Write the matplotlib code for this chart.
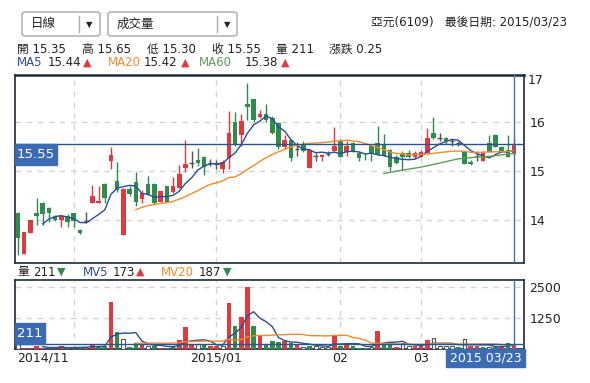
import numpy as np
import pandas as pd
import matplotlib
matplotlib.use("Agg")
import matplotlib.pyplot as plt
from matplotlib.patches import FancyBboxPatch, Rectangle

plt.rcParams['font.family'] = ['DejaVu Sans', 'Noto Sans CJK TC']

# daily candles, oldest first, last = 2015/03/23
opens = [14.14, 13.30, 13.74, 14.14, 14.34, 14.24, 14.05, 14.00, 14.07, 14.14,
         13.80, 13.97, 14.34, 14.34, 14.73, 15.21, 14.80, 13.69, 14.63, 14.78,
         14.43, 14.73, 14.73, 14.37, 14.69, 14.57, 14.66, 15.07, 15.17, 15.22,
         15.29, 15.16, 15.15, 15.03, 15.27, 15.99, 15.73, 16.36, 16.46, 16.10,
         16.16, 16.09, 15.97, 15.48, 15.63, 15.44, 15.55, 15.07, 15.31, 15.28,
         15.34, 15.41, 15.62, 15.39, 15.58, 15.37, 15.31, 15.50, 15.58, 15.55,
         15.43, 15.29, 15.37, 15.37, 15.28, 15.29, 15.36, 15.77, 15.67, 15.67,
         15.61, 15.58, 15.39, 15.19, 15.30, 15.21, 15.57, 15.73, 15.48, 15.43,
         15.35]
highs = [14.16, 13.75, 14.00, 14.45, 14.36, 14.26, 14.10, 14.10, 14.12, 14.14,
         13.82, 14.17, 14.72, 14.70, 14.75, 15.48, 15.18, 14.65, 14.70, 14.97,
         14.62, 14.90, 14.75, 14.59, 14.70, 14.87, 15.13, 15.63, 15.40, 15.46,
         15.31, 15.25, 15.22, 15.22, 16.22, 16.20, 16.17, 16.80, 16.48, 16.25,
         16.36, 16.12, 16.00, 15.73, 15.65, 15.60, 15.62, 15.43, 15.36, 15.35,
         15.40, 15.90, 15.65, 15.62, 15.60, 15.40, 15.37, 15.52, 15.92, 15.75,
         15.45, 15.32, 15.40, 15.42, 15.40, 15.42, 15.87, 16.10, 15.77, 15.70,
         15.66, 15.62, 15.40, 15.23, 15.40, 15.40, 15.74, 15.75, 15.52, 15.74,
         15.65]
lows = [13.29, 13.30, 13.74, 13.90, 13.90, 13.96, 13.98, 13.86, 13.85, 13.85,
        13.72, 13.93, 14.34, 14.34, 14.35, 15.03, 14.58, 13.69, 14.48, 14.29,
        14.35, 14.50, 14.32, 14.37, 14.37, 14.55, 14.66, 14.97, 15.07, 15.10,
        14.91, 15.10, 15.05, 14.95, 15.03, 15.50, 15.52, 16.05, 16.00, 16.08,
        16.00, 15.75, 15.45, 15.45, 15.20, 15.30, 15.38, 15.07, 15.20, 15.20,
        15.30, 15.41, 15.28, 15.30, 15.39, 15.20, 15.23, 15.20, 15.33, 15.31,
        15.00, 15.15, 15.00, 15.27, 15.25, 15.28, 15.36, 15.65, 15.62, 15.55,
        15.52, 15.52, 15.14, 15.12, 15.20, 15.21, 15.39, 15.48, 15.41, 15.29,
        15.30]
closes = [13.63, 13.75, 14.00, 14.09, 14.12, 14.14, 14.00, 14.08, 13.95, 13.97,
          13.74, 13.97, 14.49, 14.39, 14.44, 15.33, 14.61, 14.63, 14.52, 14.37,
          14.56, 14.52, 14.34, 14.59, 14.37, 14.69, 14.93, 15.14, 15.17, 15.17,
          15.09, 15.16, 15.15, 15.19, 15.78, 15.54, 16.03, 16.31, 16.05, 16.16,
          16.05, 15.77, 15.48, 15.63, 15.27, 15.44, 15.41, 15.43, 15.31, 15.33,
          15.34, 15.51, 15.28, 15.50, 15.39, 15.26, 15.30, 15.37, 15.33, 15.31,
          15.09, 15.17, 15.29, 15.29, 15.36, 15.39, 15.67, 15.67, 15.67, 15.61,
          15.61, 15.58, 15.14, 15.14, 15.30, 15.37, 15.39, 15.48, 15.41, 15.29,
          15.55]
volumes = [190, 55, 50, 120, 40, 40, 40, 120, 40, 60,
           60, 80, 190, 120, 120, 1900, 685, 390, 80, 250,
           190, 120, 120, 40, 60, 120, 360, 890, 190, 220,
           190, 120, 120, 120, 1866, 930, 1290, 2500, 930, 560,
           220, 320, 280, 320, 250, 190, 100, 120, 120, 100,
           100, 560, 120, 190, 120, 60, 60, 80, 725, 250,
           250, 80, 250, 120, 120, 120, 360, 440, 120, 120,
           120, 80, 415, 120, 120, 80, 80, 80, 120, 250,
           211]
# u = up (red), d = down (green), f = flat (hollow)
vol_dir = list("fuuuuffudf" "duuddudfdd" "ufdudduuuf" "duufudurdu" "dddudufdff"
               "fududddfud" "duffuuufff" "fdfuudfdud" "u")
vol_dir = ['u' if v == 'r' else v for v in vol_dir]

grid_pos = [9, 32, 52, 65]
date_labels = ['2014/11', '2015/01', '02', '03']
price_ticks = [14, 15, 16]
vol_ticks = [1250, 2500]

RED = '#e03a3e'
GREEN = '#2f8c4c'
DOJI = '#555555'
BLUE = '#2b4c9b'
ORANGE = '#f28a2e'
MA60C = '#5c9f5c'
FRAME = '#1c2a3a'
BOX = '#3b6cb3'
GRID = '#d4d4d4'
TXT = '#222222'

W, H = 590, 383


def fx(x):
    return x / W


def fy(y):
    return 1 - y / H


fig = plt.figure(figsize=(5.9, 3.83), dpi=100)
ax = fig.add_axes([fx(15), fy(263), (524 - 15) / W, (263 - 75) / H])
axv = fig.add_axes([fx(15), fy(349), (524 - 15) / W, (349 - 280) / H])

idx = np.arange(len(closes))
xlim = (-0.48, 81.6)

# candles
for i in idx:
    o, h, l, c = opens[i], highs[i], lows[i], closes[i]
    col = RED if c > o else (GREEN if c < o else DOJI)
    ax.vlines(i, l, h, color=col, lw=1, zorder=3)
    if c == o:
        ax.hlines(c, i - 0.38, i + 0.38, color=col, lw=1, zorder=3)
    else:
        ax.bar(i, abs(c - o), 0.74, bottom=min(o, c), color=col, zorder=3)

s = pd.Series(closes)
ax.plot(idx, s.rolling(5).mean(), color=BLUE, lw=1, zorder=4)
ax.plot(idx, s.rolling(20).mean(), color=ORANGE, lw=1, zorder=4)
ax.plot(idx, s.rolling(60).mean(), color=MA60C, lw=1, zorder=4)

for p in price_ticks:
    ax.axhline(p, color=GRID, lw=1, ls=(0, (4, 4)), zorder=1)
for g in grid_pos:
    ax.axvline(g, color=GRID, lw=1, ls=(0, (4, 4)), zorder=1)
ax.axhline(closes[-1], color='#2d5584', lw=1, zorder=5)
ax.axvline(idx[-1], color='#4a70b0', lw=1, zorder=5)
ax.add_patch(Rectangle((xlim[0], 15.12), 6.77, closes[-1] - 15.12, color=BOX, zorder=6))
ax.text(2.9, 15.335, '%.2f' % closes[-1], color='white', fontsize=9.5,
        ha='center', va='center', zorder=7)

ax.set_xlim(xlim)
ax.set_ylim(13.12, 16.96)
ax.yaxis.tick_right()
ax.set_yticks(price_ticks)
ax.set_yticklabels([str(p) for p in price_ticks])
ax.tick_params(axis='y', length=0, pad=4, labelsize=9, labelcolor=TXT)
ax.set_xticks([])
for sp in ax.spines.values():
    sp.set_color(FRAME)
    sp.set_linewidth(1.2)
ax.spines['top'].set_linewidth(1.8)
fig.text(fx(528), fy(80), '17', fontsize=9, color=TXT, va='center')

# volume
vs = pd.Series(volumes)
for i in idx:
    d = vol_dir[i]
    if d == 'f':
        axv.bar(i, volumes[i], 0.62, color='white', edgecolor='#555555', lw=0.8, zorder=3)
    else:
        axv.bar(i, volumes[i], 0.74, color=RED if d == 'u' else GREEN, zorder=3)
axv.plot(idx, vs.rolling(5).mean(), color=BLUE, lw=1, zorder=4)
axv.plot(idx, vs.rolling(20).mean(), color=ORANGE, lw=1, zorder=4)
for v in vol_ticks:
    axv.axhline(v, color=GRID, lw=1, ls=(0, (4, 4)), zorder=1)
for g in grid_pos:
    axv.axvline(g, color=GRID, lw=1, ls=(0, (4, 4)), zorder=1)
axv.axhline(volumes[-1], color='#2d5584', lw=1, zorder=5)
axv.axvline(idx[-1], color='#4a70b0', lw=1, zorder=5)
axv.add_patch(Rectangle((xlim[0], volumes[-1]), 4.85, 840, color=BOX, zorder=6))
axv.text(1.95, volumes[-1] + 420, str(volumes[-1]), color='white', fontsize=9.5,
         ha='center', va='center', zorder=7)
axv.set_xlim(xlim)
axv.set_ylim(0, 2780)
axv.yaxis.tick_right()
axv.set_yticks(vol_ticks)
axv.set_yticklabels([str(v) for v in vol_ticks])
axv.tick_params(axis='y', length=0, pad=4, labelsize=9, labelcolor=TXT)
axv.set_xticks([])
for sp in axv.spines.values():
    sp.set_color(FRAME)
    sp.set_linewidth(1.2)

# date labels under the volume panel
fig.text(fx(17), fy(358), date_labels[0], fontsize=9, color=TXT, va='center', ha='left')
for g, lab in zip(grid_pos[1:], date_labels[1:]):
    xp = 18 + 6.2 * g
    fig.text(fx(xp), fy(358), lab, fontsize=9, color=TXT, va='center', ha='center')
fig.patches.append(Rectangle((fx(446), fy(367)), (525 - 446) / W, 18 / H,
                             transform=fig.transFigure, color=BOX))
fig.text(fx(485.5), fy(358), '2015 03/23', fontsize=9, color='white', va='center', ha='center')

# dropdowns
for x0, x1, sep, label in [(22, 100, 79, '日線'), (108, 237, 217, '成交量')]:
    fig.patches.append(FancyBboxPatch((fx(x0), fy(36)), (x1 - x0) / W, 24 / H,
                                      boxstyle='round,pad=0,rounding_size=0.006',
                                      transform=fig.transFigure, facecolor='white',
                                      edgecolor='#a8a8a8', lw=1))
    fig.lines.append(plt.Line2D([fx(sep), fx(sep)], [fy(16), fy(32)], color='#b0b0b0',
                                lw=1, transform=fig.transFigure))
    fig.text(fx(x0 + 9), fy(24), label, fontsize=9, color=TXT, va='center')
    fig.text(fx(sep + 10), fy(24.5), '▼', fontsize=6, color=TXT, va='center', ha='center')

fig.text(fx(567), fy(22), '亞元(6109)   最後日期: 2015/03/23', fontsize=8.5,
         color=TXT, va='center', ha='right')

# OHLC line
for x, t in [(17, '開 15.35'), (82, '高 15.65'), (147, '低 15.30'),
             (212, '收 15.55'), (276, '量 211'), (329, '漲跌 0.25')]:
    fig.text(fx(x), fy(49), t, fontsize=8.5, color=TXT, va='center')

# MA legend
for x, xv, xa, name, val, col in [(17, 48, 83, 'MA5', '15.44', BLUE),
                                  (108, 144, 181, 'MA20', '15.42', ORANGE),
                                  (199, 245, 281, 'MA60', '15.38', MA60C)]:
    fig.text(fx(x), fy(63), name, fontsize=8.5, color=col, va='center')
    fig.text(fx(xv), fy(63), val, fontsize=8.5, color=TXT, va='center')
    fig.text(fx(xa), fy(63), '▲', fontsize=8, color=RED, va='center')

# volume legend
for x, xv, xa, name, val, up, col in [(17, 33, 57, '量', '211', False, TXT),
                                      (83, 113, 136, 'MV5', '173', True, BLUE),
                                      (161, 199, 223, 'MV20', '187', False, ORANGE)]:
    fig.text(fx(x), fy(272), name, fontsize=8.5, color=col, va='center')
    fig.text(fx(xv), fy(272), val, fontsize=8.5, color=TXT, va='center')
    fig.text(fx(xa), fy(272), '▲' if up else '▼', fontsize=8,
             color=RED if up else GREEN, va='center')

fig.savefig('out.png', dpi=100)
